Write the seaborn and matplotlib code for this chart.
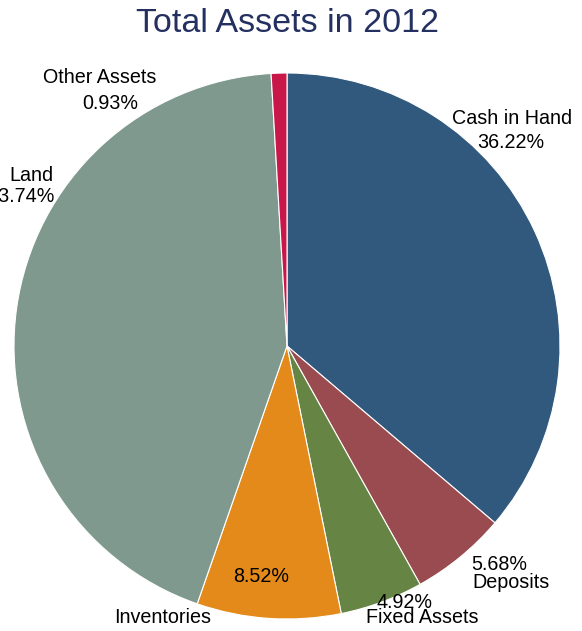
import numpy as np
import matplotlib
matplotlib.use("Agg")
import matplotlib.pyplot as plt
import seaborn as sns

# Asset breakdown for 2012 (percent of total)
categories = ["Cash in Hand", "Deposits", "Fixed Assets", "Inventories", "Land", "Other Assets"]
shares = [36.22, 5.68, 4.92, 8.52, 43.74, 0.93]
colors_hex = ["#31587d", "#9a4b4f", "#668444", "#e48a1b", "#7f998e", "#c8184a"]

sns.set_theme(style="white")
plt.rcParams["font.family"] = ["Liberation Sans", "DejaVu Sans"]

W, H = 582, 631
fig = plt.figure(figsize=(W / 100, H / 100), dpi=100)
cx, cy, r = 287, 346, 273
ax = fig.add_axes([(cx - r) / W, (H - cy - r) / H, 2 * r / W, 2 * r / H])

palette = sns.color_palette(colors_hex)
wedges, _ = ax.pie(shares, colors=palette, startangle=90, counterclock=False,
                   radius=1, wedgeprops=dict(edgecolor="white", linewidth=0.8))
ax.set_xlim(-1, 1)
ax.set_ylim(-1, 1)
ax.set_aspect("equal")
ax.axis("off")

fs = 14.2
txt = dict(fontsize=fs, color="black", clip_on=False, va="center")
pct = [f"{v:.2f}%" for v in shares]

# name and percentage are placed as separate lines around the pie
# (category index, text, x, y, alignment) in pie units
layout = [
    (0, "name", 0.824, 0.835, "center"), (0, "pct", 0.821, 0.747, "center"),
    (1, "pct", 0.777, -0.802, "center"), (1, "name", 0.821, -0.868, "center"),
    (2, "pct", 0.432, -0.941, "center"), (2, "name", 0.495, -0.996, "center"),
    (3, "pct", -0.095, -0.846, "center"), (3, "name", -0.454, -0.993, "center"),
    (4, "name", -0.936, 0.626, "center"), (4, "pct", -0.850, 0.546, "right"),
    (5, "name", -0.685, 0.982, "center"), (5, "pct", -0.648, 0.890, "center"),
]
for i, kind, x, y, ha in layout:
    s = categories[i] if kind == "name" else pct[i]
    ax.text(x, y, s, ha=ha, **txt)

fig.text(288 / W, 1 - 24 / H, "Total Assets in 2012", ha="center", va="center",
         fontsize=24.5, color="#233060")

fig.savefig("out.png", dpi=100)
